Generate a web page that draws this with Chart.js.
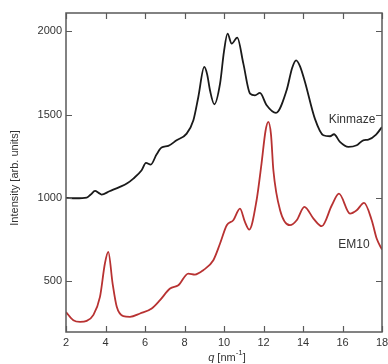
<!DOCTYPE html>
<html><head><meta charset="utf-8">
<script src="https://cdn.jsdelivr.net/npm/chart.js@4"></script>
<style>html,body{margin:0;padding:0;background:#fff}#wrap{width:388px;height:364px}</style>
</head><body><div id="wrap"><canvas id="c" width="388" height="364"></canvas></div>
<script>
const kinmazeQ = [2.0,2.5,3.05,3.25,3.47,3.65,3.8,4.2,4.73,5.1,5.41,5.83,6.05,6.29,6.59,6.84,7.18,7.6,8.11,8.45,8.7,9.0,9.15,9.29,9.51,9.8,10.0,10.18,10.39,10.67,10.98,11.32,11.57,11.82,12.16,12.63,13.17,13.45,13.65,13.85,14.1,14.6,15.03,15.37,15.57,15.87,16.3,16.72,17.05,17.31,17.7,18.0];
const kinmazeI = [1000,998,1002,1020,1042,1030,1020,1040,1066,1088,1116,1166,1210,1200,1262,1302,1312,1346,1386,1466,1606,1786,1740,1646,1562,1686,1880,1986,1926,1962,1806,1626,1616,1630,1556,1510,1646,1780,1826,1790,1696,1476,1376,1370,1382,1336,1306,1316,1346,1350,1380,1426];
const em10Q = [2.0,2.37,2.71,3.05,3.38,3.72,3.97,4.14,4.36,4.57,4.9,5.24,5.75,6.34,6.76,7.27,7.69,8.19,8.53,8.95,9.46,9.8,10.14,10.47,10.81,11.06,11.28,11.65,11.9,12.1,12.24,12.38,12.5,12.84,13.34,13.68,14.07,14.53,14.95,15.46,15.82,16.38,16.72,17.09,17.48,17.73,18.0];
const em10I = [315,266,256,262,296,406,606,676,486,346,290,286,306,336,386,456,476,546,540,566,626,726,836,866,936,856,810,986,1206,1400,1456,1380,1166,926,836,866,946,876,830,956,1026,906,926,970,866,756,690];
const xTicks = [2,4,6,8,10,12,14,16,18];
const yTicks = [500,1000,1500,2000];
const seriesNames = ['Kinmaze','EM10'];

const FONT = '"Liberation Sans", Arial, sans-serif';
const toPts = (q, v) => q.map((x, i) => ({x, y: v[i]}));

const framePlugin = {
  id: 'frame',
  afterDraw(chart) {
    const {ctx, chartArea: a, scales: {x, y}} = chart;
    ctx.save();
    ctx.strokeStyle = '#5a5a5a';
    ctx.lineWidth = 1.5;
    ctx.strokeRect(a.left, a.top, a.right - a.left, a.bottom - a.top);
    ctx.lineWidth = 1.2;
    ctx.beginPath();
    xTicks.forEach(t => {
      const px = Math.round(x.getPixelForValue(t)) + 0.5;
      ctx.moveTo(px, a.bottom); ctx.lineTo(px, a.bottom - 6);
      ctx.moveTo(px, a.top); ctx.lineTo(px, a.top + 6);
    });
    yTicks.forEach(t => {
      const py = Math.round(y.getPixelForValue(t)) + 0.5;
      ctx.moveTo(a.left, py); ctx.lineTo(a.left + 6, py);
      ctx.moveTo(a.right, py); ctx.lineTo(a.right - 6, py);
    });
    ctx.stroke();
    ctx.fillStyle = '#333';
    ctx.font = '11px ' + FONT;
    ctx.textAlign = 'center'; ctx.textBaseline = 'middle';
    xTicks.forEach(t => ctx.fillText(String(t), x.getPixelForValue(t), 343));
    ctx.textAlign = 'right';
    yTicks.forEach(t => ctx.fillText(String(t), 62, y.getPixelForValue(t)));
    // series labels
    ctx.textAlign = 'center';
    ctx.font = '12px ' + FONT;
    ctx.fillText(seriesNames[0], 352, 120);
    ctx.fillText(seriesNames[1], 354, 245);
    // y title
    ctx.font = '11px ' + FONT;
    ctx.save();
    ctx.translate(15, 178);
    ctx.rotate(-Math.PI / 2);
    ctx.fillText('Intensity [arb. units]', 0, 0);
    ctx.restore();
    // x title
    ctx.textAlign = 'left';
    const cx = 227, cy = 358;
    ctx.font = 'italic 11px ' + FONT;
    const wq = ctx.measureText('q').width;
    ctx.font = '11px ' + FONT;
    const w1 = ctx.measureText(' [nm').width;
    ctx.font = '8px ' + FONT;
    const w2 = ctx.measureText('-1').width;
    ctx.font = '11px ' + FONT;
    const w3 = ctx.measureText(']').width;
    let sx = cx - (wq + w1 + w2 + w3) / 2;
    ctx.font = 'italic 11px ' + FONT; ctx.fillText('q', sx, cy); sx += wq;
    ctx.font = '11px ' + FONT; ctx.fillText(' [nm', sx, cy); sx += w1;
    ctx.font = '8px ' + FONT; ctx.fillText('-1', sx, cy - 5); sx += w2;
    ctx.font = '11px ' + FONT; ctx.fillText(']', sx, cy);
    ctx.restore();
  }
};

new Chart(document.getElementById('c'), {
  type: 'line',
  data: {
    datasets: [
      {label: seriesNames[0], data: toPts(kinmazeQ, kinmazeI), borderColor: '#1a1a1a', borderWidth: 1.8, pointRadius: 0, cubicInterpolationMode: 'monotone'},
      {label: seriesNames[1], data: toPts(em10Q, em10I), borderColor: '#b83232', borderWidth: 1.8, pointRadius: 0, cubicInterpolationMode: 'monotone'}
    ]
  },
  options: {
    responsive: false,
    animation: false,
    events: [],
    layout: {padding: {left: 0, right: 6, top: 13, bottom: 0}},
    plugins: {legend: {display: false}, tooltip: {enabled: false}},
    scales: {
      x: {type: 'linear', min: 2, max: 18, grid: {display: false}, border: {display: false},
          ticks: {display: false}, afterFit(s) { s.height = 32; }},
      y: {type: 'linear', min: 195, max: 2110, grid: {display: false}, border: {display: false},
          ticks: {display: false}, afterFit(s) { s.width = 66; }}
    }
  },
  plugins: [framePlugin]
});
</script></body></html>
